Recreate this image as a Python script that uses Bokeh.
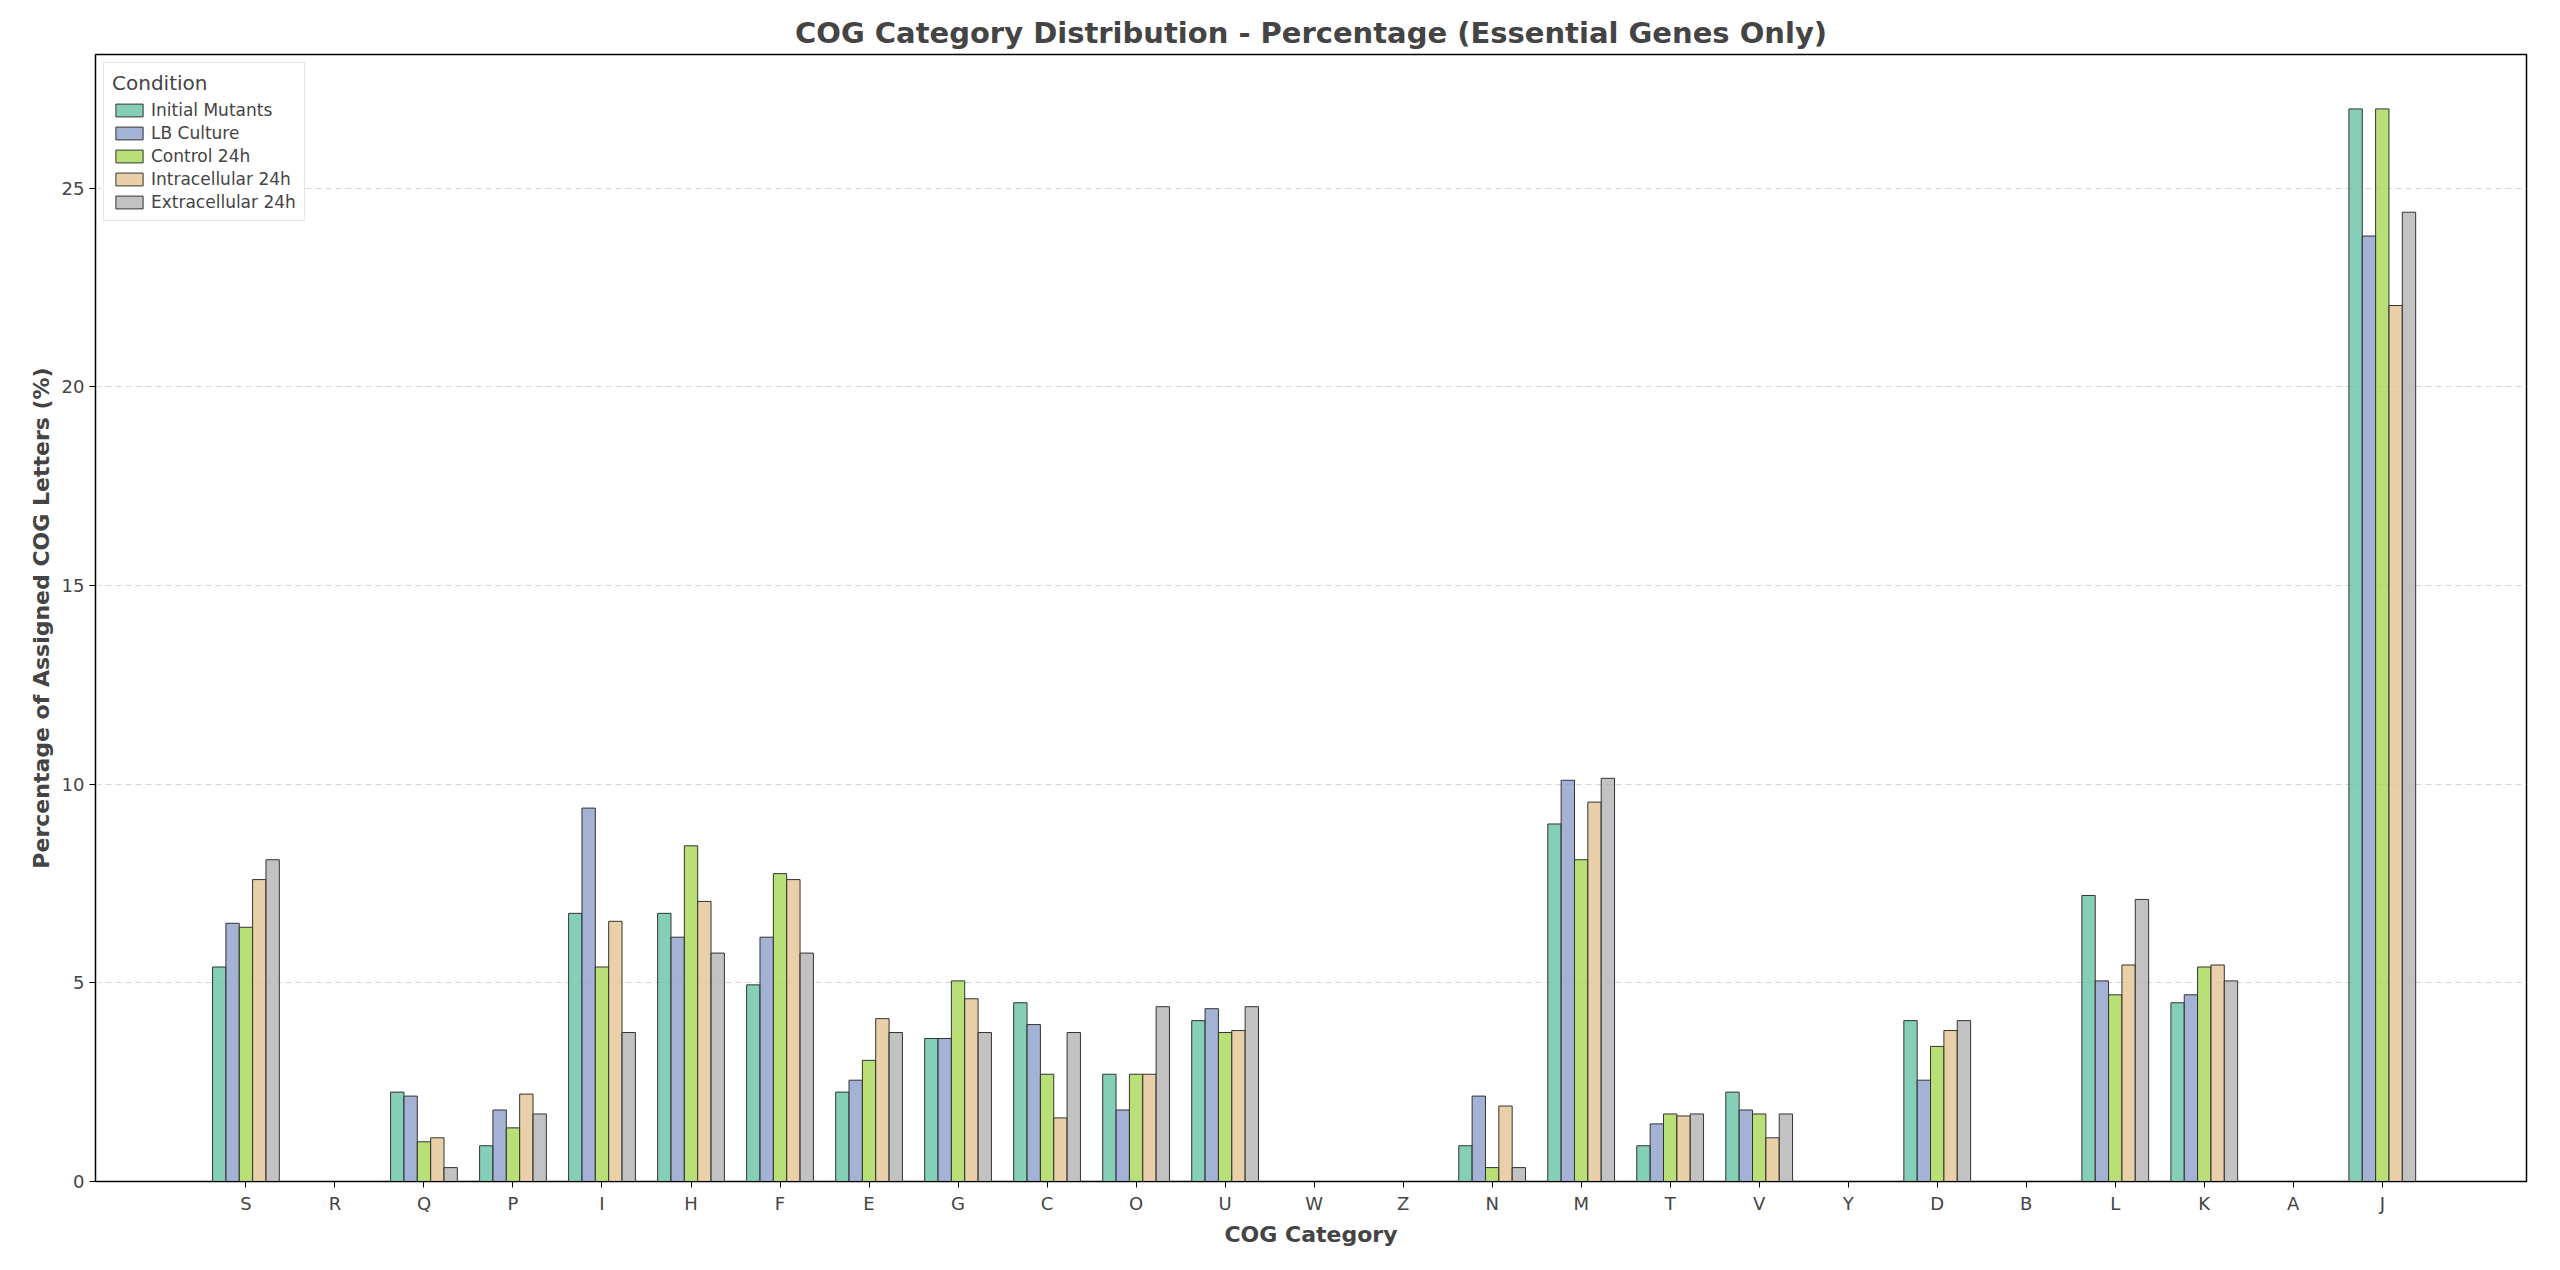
from bokeh.plotting import figure
from bokeh.models import FixedTicker, Range1d, Legend, LegendItem, ColumnDataSource
from bokeh.embed import file_html
from bokeh.resources import INLINE

categories = ["S","R","Q","P","I","H","F","E","G","C","O","U","W","Z","N","M","T","V","Y","D","B","L","K","A","J"]
conditions = ["Initial Mutants","LB Culture","Control 24h","Intracellular 24h","Extracellular 24h"]
initial_mutants = [5.4,0,2.25,0.9,6.75,6.75,4.95,2.25,3.6,4.5,2.7,4.05,0,0,0.9,9.0,0.9,2.25,0,4.05,0,7.2,4.5,0,27.0]
lb_culture      = [6.5,0,2.15,1.8,9.4,6.15,6.15,2.55,3.6,3.95,1.8,4.35,0,0,2.15,10.1,1.45,1.8,0,2.55,0,5.05,4.7,0,23.8]
control_24h     = [6.4,0,1.0,1.35,5.4,8.45,7.75,3.05,5.05,2.7,2.7,3.75,0,0,0.35,8.1,1.7,1.7,0,3.4,0,4.7,5.4,0,27.0]
intracellular   = [7.6,0,1.1,2.2,6.55,7.05,7.6,4.1,4.6,1.6,2.7,3.8,0,0,1.9,9.55,1.65,1.1,0,3.8,0,5.45,5.45,0,22.05]
extracellular   = [8.1,0,0.35,1.7,3.75,5.75,5.75,3.75,3.75,3.75,4.4,4.4,0,0,0.35,10.15,1.7,1.7,0,4.05,0,7.1,5.05,0,24.4]
series = [initial_mutants, lb_culture, control_24h, intracellular, extracellular]
colors = ["#66c2a5","#8da0cb","#a6d854","#e5c494","#b3b3b3"]

p = figure(width=2544, height=1254, output_backend="svg", toolbar_location=None,
           x_range=Range1d(-1.69, 25.62), y_range=Range1d(0, 28.37),
           min_border_left=95, min_border_right=18, min_border_top=54, min_border_bottom=73)
p.title.text = "COG Category Distribution - Percentage (Essential Genes Only)"
p.title.align = "center"
p.title.text_font = "DejaVu Sans"
p.title.text_font_size = "29px"
p.title.text_font_style = "bold"

bw = 0.15
items = []
for i, (vals, col, name) in enumerate(zip(series, colors, conditions)):
    xs = [k + (i - 2) * bw for k in range(len(categories))]
    src = ColumnDataSource(dict(x=xs, top=vals))
    r = p.vbar(x="x", top="top", width=bw, bottom=0, source=src, fill_color=col,
               fill_alpha=0.8, line_color="#333333", line_width=1)
    items.append(LegendItem(label=name, renderers=[r]))

legend = Legend(items=items, location="top_left", title="Condition")
legend.title_text_font = "DejaVu Sans"
legend.title_text_font_size = "20px"
legend.title_text_font_style = "normal"
legend.label_text_font = "DejaVu Sans"
legend.label_text_font_size = "17px"
legend.glyph_height = 16
legend.glyph_width = 34
legend.label_height = 16
legend.spacing = 3
legend.padding = 8
legend.margin = 8
legend.border_line_color = "#cccccc"
legend.border_line_width = 1
p.add_layout(legend)

p.xaxis.ticker = FixedTicker(ticks=list(range(len(categories))))
p.xaxis.major_label_overrides = {k: c for k, c in enumerate(categories)}
p.yaxis.ticker = FixedTicker(ticks=[0,5,10,15,20,25])
for ax in (p.xaxis, p.yaxis):
    ax.major_label_text_font = "DejaVu Sans"
    ax.major_label_text_font_size = "18px"
    ax.axis_label_text_font = "DejaVu Sans"
    ax.axis_label_text_font_size = "22px"
    ax.axis_label_text_font_style = "bold"
    ax.minor_tick_line_color = None
    ax.axis_line_color = "black"
    ax.major_tick_line_color = "black"
    ax.major_tick_out = 6
    ax.major_tick_in = 0
p.xaxis.axis_label = "COG Category"
p.yaxis.axis_label = "Percentage of Assigned COG Letters (%)"
p.xgrid.grid_line_color = None
p.ygrid.grid_line_color = "#cccccc"
p.ygrid.grid_line_dash = "6 4"
p.ygrid.grid_line_alpha = 0.8
p.outline_line_color = "black"
p.outline_line_width = 1.5

open("out.html", "w").write(file_html(p, INLINE))
